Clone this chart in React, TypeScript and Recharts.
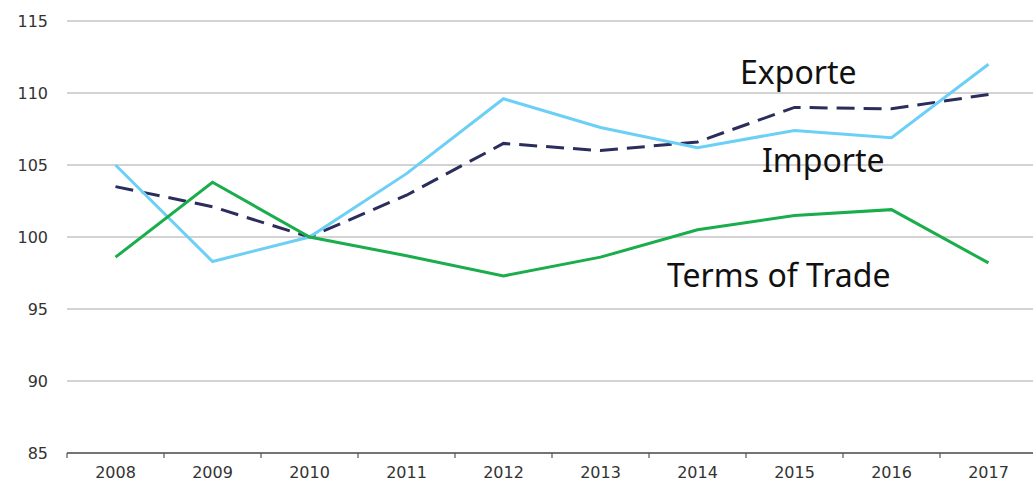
import React from "react";
import { LineChart, Line, XAxis, YAxis, CartesianGrid } from "recharts";

/* Jahre und Indexwerte (2010 = 100) */
const YEARS = ["2008", "2009", "2010", "2011", "2012", "2013", "2014", "2015", "2016", "2017"];
const EXPORTE = [105.0, 98.3, 100.0, 104.4, 109.6, 107.6, 106.2, 107.4, 106.9, 112.0];
const IMPORTE = [103.5, 102.1, 100.0, 102.9, 106.5, 106.0, 106.6, 109.0, 108.9, 109.9];
const TOT = [98.6, 103.8, 100.0, 98.7, 97.3, 98.6, 100.5, 101.5, 101.9, 98.2];
const Y_TICKS = [85, 90, 95, 100, 105, 110, 115];

const FONT = "'Noto Sans', 'DejaVu Sans', sans-serif";
const TICK_FONT = "'DejaVu Sans', sans-serif";
const BAND = 97;

const data = YEARS.map((y, i) => ({
  year: y,
  exporte: EXPORTE[i],
  importe: IMPORTE[i],
  tot: TOT[i],
}));

/* Tick-Striche an Kategoriegrenzen, Beschriftung in der Mitte */
function YearTick(props: any) {
  const { x, y, payload } = props;
  return (
    <g>
      <line x1={x - BAND / 2} x2={x - BAND / 2} y1={y} y2={y + 5} stroke="#555" strokeWidth={1.2} />
      <text x={x} y={y + 25} textAnchor="middle" fill="#333" fontSize={16} fontFamily={TICK_FONT}>
        {payload.value}
      </text>
    </g>
  );
}

const labelStyle: React.CSSProperties = {
  position: "absolute",
  fontFamily: FONT,
  fontSize: 32,
  color: "#111",
  lineHeight: 1,
  whiteSpace: "nowrap",
};

export default function App() {
  return (
    <div style={{ position: "absolute", left: 0, top: 0, width: 1033, height: 486, overflow: "hidden", background: "#fff" }}>
      <LineChart width={1045} height={486} data={data} margin={{ top: 21, right: 8, left: 12, bottom: 0 }}>
        <CartesianGrid horizontal vertical={false} stroke="#a6a6a6" strokeWidth={1} />
        <XAxis dataKey="year" scale="band" height={33} tick={<YearTick />} tickLine={false}
          tickSize={0} tickMargin={0} axisLine={{ stroke: "#555", strokeWidth: 1.5 }} interval={0} />
        <YAxis domain={[85, 115]} ticks={Y_TICKS} width={55} axisLine={false} tickLine={false}
          tickSize={0} tickMargin={19} interval={0}
          tick={{ fill: "#333", fontSize: 16, fontFamily: TICK_FONT }} />
        <Line type="linear" dataKey="importe" stroke="#2b2d5c" strokeWidth={3}
          strokeDasharray="18 9" dot={false} isAnimationActive={false} />
        <Line type="linear" dataKey="exporte" stroke="#6ccff6" strokeWidth={3}
          dot={false} isAnimationActive={false} />
        <Line type="linear" dataKey="tot" stroke="#19ad4b" strokeWidth={3}
          dot={false} isAnimationActive={false} />
      </LineChart>
      <div style={{ ...labelStyle, left: 740, top: 56 }}>Exporte</div>
      <div style={{ ...labelStyle, left: 762, top: 144 }}>Importe</div>
      <div style={{ ...labelStyle, left: 667, top: 259 }}>Terms of Trade</div>
    </div>
  );
}
